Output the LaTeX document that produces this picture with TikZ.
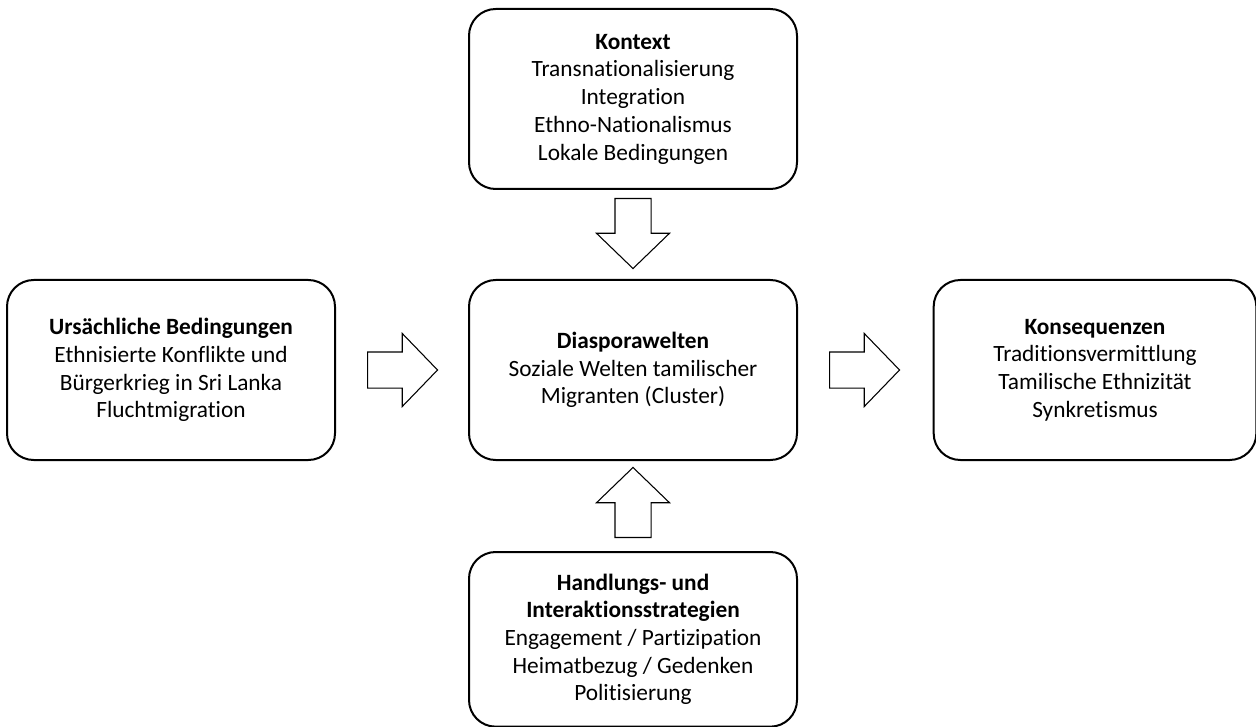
\documentclass[tikz,border=0pt]{standalone}
\usepackage{fontspec}
\setmainfont{Carlito}[Ligatures=NoCommon]
\usepackage{tikz}
\usetikzlibrary{positioning,calc,shapes.arrows}

\begin{document}
\begin{tikzpicture}[font=\fontsize{17.5}{20.8}\selectfont,
    feld/.style={draw,line width=1.5pt,rounded corners=20pt,align=center,
      minimum width=246pt,minimum height=135pt,inner sep=4pt},
    blockpfeil/.style={draw,line width=0.8pt,single arrow,inner sep=0pt,
      text height=26.25pt,text depth=0pt,minimum height=52.5pt,anchor=tail,
      single arrow head extend=13.9pt,single arrow tip angle=92}]
  \useasboundingbox (0,0) rectangle (942pt,-545.25pt);
  \node[feld] (dia) at (474.75pt,-277.5pt)
    {\textbf{Diasporawelten}\\Soziale Welten tamilischer\\Migranten (Cluster)};
  \node[feld,above=66.75pt of dia] (ktx)
    {\textbf{Kontext}\\Transnationalisierung\\Integration\\Ethno-Nationalismus\\Lokale Bedingungen};
  \node[feld,left=99pt of dia] (urs)
    {\textbf{Ursächliche Bedingungen}\\Ethnisierte Konflikte und\\Bürgerkrieg in Sri Lanka\\Fluchtmigration};
  \node[feld,right=101pt of dia,minimum width=242pt] (kon)
    {\textbf{Konsequenzen}\\Traditionsvermittlung\\Tamilische Ethnizität\\Synkretismus};
  \node[feld,below=67.5pt of dia,minimum height=131pt] (hdl)
    {\textbf{Handlungs- und}\\\textbf{Interaktionsstrategien}\\Engagement / Partizipation\\Heimatbezug / Gedenken\\Politisierung};
  % Blockpfeile zwischen den Feldern
  \node[blockpfeil] (p1) at ($(urs.east)+(23.25pt,0)$) {};
  \node[blockpfeil] (p2) at ($(dia.east)+(23.25pt,0)$) {};
  \node[blockpfeil,rotate=-90] (p3) at ($(ktx.south)+(0,-6pt)$) {};
  \node[blockpfeil,rotate=90] (p4) at ($(hdl.north)+(0,9.75pt)$) {};
\end{tikzpicture}
\end{document}
